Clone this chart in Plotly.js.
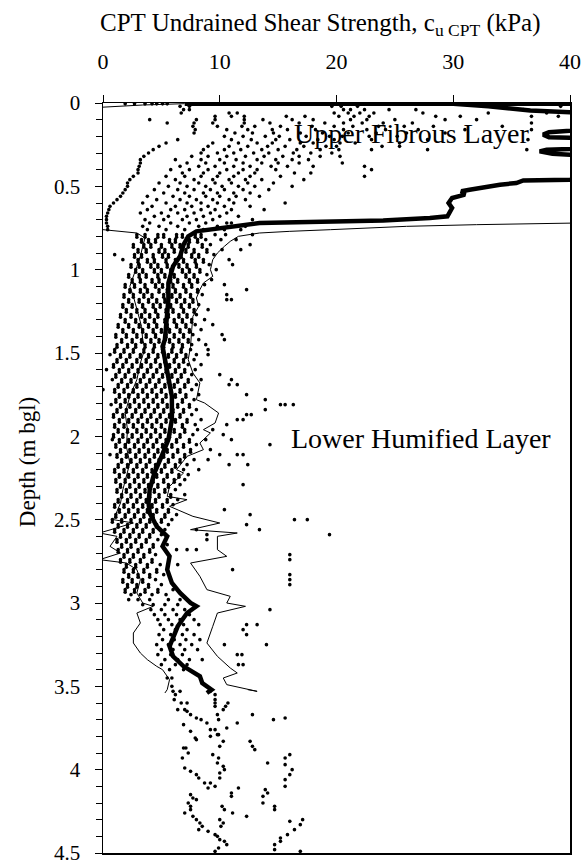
<!DOCTYPE html>
<html>
<head>
<meta charset="utf-8">
<script src="https://cdn.plot.ly/plotly-3.0.1.min.js"></script>
<style>html,body{margin:0;padding:0;background:#fff;}#chart{width:583px;height:864px;}</style>
</head>
<body>
<div id="chart"></div>
<script>
// ---- DATA: scatter rows, each row = [depth (m), cu values (kPa) ...] ----
const dotsUpper = [
 [0.005, 1.9, 2.7, 3.6, 4.2, 4.6, 5.1, 5.5],
 [0.02, 6.6, 7.4, 19.6, 20.4, 21.8, 39.2],
 [0.04, 6.9, 7.4, 20.6, 21.2, 22.4, 24.5, 26.8, 36.0],
 [0.06, 6.7, 10.8, 11.5, 19.8, 21.0, 22.0, 23.2, 27.4, 33.0, 38.0],
 [0.08, 9.6, 11.0, 12.1, 15.7, 17.3, 20.2, 21.5, 22.8, 28.5, 30.6, 36.7, 39.0],
 [0.10, 4.0, 8.0, 9.6, 12.1, 13.7, 16.2, 18.0, 21.2, 22.6, 25.0, 29.3, 32.0],
 [0.12, 5.5, 7.8, 9.4, 12.1, 14.3, 16.8, 19.0, 20.6, 22.2, 24.0, 26.5, 36.7],
 [0.14, 7.7, 9.8, 11.9, 13.0, 15.2, 17.9, 19.8, 21.4, 23.6, 25.8, 28.3, 34.2],
 [0.16, 7.9, 10.6, 12.4, 14.5, 15.8, 18.2, 20.6, 22.6, 24.2, 27.0, 31.0, 36.7],
 [0.18, 7.8, 11.3, 12.8, 14.6, 16.9, 18.8, 21.0, 23.4, 26.0, 29.3],
 [0.20, 10.4, 12.0, 13.9, 15.1, 17.4, 19.4, 20.5, 22.8, 25.2],
 [0.22, 6.4, 11.0, 12.7, 14.8, 16.0, 18.4, 19.8, 23.0, 27.8, 36.4],
 [0.24, 5.4, 9.4, 11.6, 13.2, 14.5, 16.9, 18.0, 20.3, 21.6, 25.4],
 [0.26, 4.8, 9.0, 10.8, 12.4, 14.1, 15.6, 17.2, 19.1, 20.0, 23.9, 25.4],
 [0.28, 4.3, 8.6, 10.4, 11.8, 13.6, 15.0, 16.6, 18.6, 20.2, 23.0, 27.8, 36.3],
 [0.30, 3.9, 8.4, 9.8, 11.2, 12.9, 14.2, 16.3, 17.8, 19.6],
 [0.32, 3.5, 7.6, 9.0, 10.6, 12.2, 13.8, 15.4, 16.8, 18.6, 20.3],
 [0.34, 3.2, 6.2, 8.4, 10.0, 11.4, 13.2, 14.8, 16.2, 17.6],
 [0.36, 3.2, 7.2, 8.8, 10.4, 12.0, 13.6, 15.0, 16.8, 20.5],
 [0.38, 3.1, 6.6, 8.2, 9.6, 11.2, 12.6, 14.4, 15.8, 18.0, 22.4],
 [0.40, 3.0, 5.8, 7.4, 9.0, 10.6, 12.0, 13.2, 14.8, 23.0],
 [0.42, 3.0, 6.8, 8.6, 10.0, 11.6, 13.0, 16.4, 17.8],
 [0.44, 2.6, 5.4, 7.0, 8.4, 9.8, 11.2, 12.6, 15.2, 22.4],
 [0.46, 2.3, 6.2, 7.8, 9.4, 10.8, 12.2, 13.6, 17.2],
 [0.48, 2.1, 4.8, 6.6, 8.2, 9.6, 11.0, 12.4, 14.6],
 [0.50, 2.1, 5.6, 7.2, 8.8, 10.2, 11.6, 13.0, 16.2],
 [0.52, 1.9, 4.4, 6.4, 7.8, 9.2, 10.4, 12.0, 14.2],
 [0.54, 1.7, 5.2, 7.0, 8.6, 9.8, 11.2, 12.6],
 [0.56, 1.5, 3.8, 6.0, 7.4, 8.8, 10.0, 11.4, 13.4],
 [0.58, 1.2, 4.6, 6.6, 8.0, 9.4, 10.8, 12.2],
 [0.60, 0.9, 3.4, 5.4, 7.2, 8.4, 9.8, 11.2, 15.6],
 [0.62, 0.6, 4.2, 6.2, 7.6, 9.0, 10.4, 12.6],
 [0.64, 0.5, 3.8, 5.8, 7.0, 8.4, 9.6, 11.0, 13.8],
 [0.66, 0.4, 3.2, 5.0, 6.4, 7.8, 9.2, 10.6],
 [0.68, 0.3, 4.4, 5.6, 7.2, 8.6, 10.0, 11.6],
 [0.70, 0.3, 3.6, 5.2, 6.8, 8.0, 9.4, 12.8],
 [0.72, 0.3, 4.0, 5.8, 7.4, 8.8, 10.6, 11.0],
 [0.74, 0.4, 3.4, 4.8, 6.4, 8.2, 9.8, 12.2],
 [0.76, 0.4, 3.8, 5.4, 7.0, 8.6, 10.4, 11.8]
];
const dotsMiddle = [
 [0.79, 2.9, 3.6, 4.7, 5.2, 6.3, 6.8, 7.9, 8.4, 9.6, 10.5, 12.8],
 [0.82, 3.3, 3.9, 4.5, 5.7, 6.2, 7.4, 8.1, 8.8, 10.1, 11.4],
 [0.85, 2.6, 3.5, 4.1, 5.0, 5.9, 6.6, 7.3, 8.5, 9.2, 12.6],
 [0.88, 3.0, 3.7, 4.8, 5.3, 6.1, 7.1, 7.8, 8.9, 10.2, 11.8],
 [0.91, 1.0, 2.7, 3.3, 4.3, 5.1, 5.6, 6.7, 7.6, 8.2, 9.5],
 [0.94, 1.7, 3.0, 3.8, 4.4, 5.4, 6.2, 6.9, 7.9, 8.6, 10.8],
 [0.97, 2.4, 3.1, 4.1, 4.7, 5.5, 6.5, 7.2, 8.0, 9.1, 11.1],
 [1.00, 2.8, 3.4, 4.4, 5.0, 5.8, 6.8, 7.4, 8.3, 9.7],
 [1.03, 2.2, 3.1, 3.7, 4.7, 5.3, 6.1, 7.1, 7.8, 8.9],
 [1.06, 2.5, 3.2, 4.2, 4.8, 5.8, 6.4, 7.4, 8.1, 9.3],
 [1.09, 1.9, 2.7, 3.6, 4.5, 5.1, 6.0, 6.9, 7.6, 8.7, 10.4],
 [1.12, 2.3, 3.2, 3.8, 4.8, 5.5, 6.2, 7.1, 8.1, 12.3],
 [1.15, 1.8, 2.6, 3.5, 4.2, 5.2, 5.9, 6.6, 7.5, 8.5, 10.6],
 [1.18, 2.2, 3.1, 3.9, 4.6, 5.3, 6.3, 7.0, 7.7, 10.6, 11.0],
 [1.21, 1.7, 2.5, 3.4, 4.3, 4.9, 5.8, 6.7, 7.4, 8.2],
 [1.24, 2.0, 2.9, 3.6, 4.5, 5.4, 6.0, 6.9, 7.8, 9.0],
 [1.27, 1.5, 2.4, 3.3, 4.0, 4.7, 5.6, 6.5, 7.2, 8.0],
 [1.30, 1.9, 2.8, 3.6, 4.4, 5.3, 6.1, 6.8, 7.6, 8.7],
 [1.33, 1.3, 2.2, 3.1, 3.9, 4.6, 5.5, 6.3, 7.1, 7.9, 9.4],
 [1.36, 1.7, 2.6, 3.4, 4.3, 5.0, 5.7, 6.6, 7.4, 8.4],
 [1.39, 1.1, 2.0, 2.9, 3.7, 4.5, 5.4, 6.1, 6.9, 7.7, 10.2],
 [1.42, 1.6, 2.5, 3.3, 4.1, 4.8, 5.7, 6.5, 7.3, 8.2, 10.4],
 [1.45, 1.2, 2.1, 2.8, 3.6, 4.4, 5.2, 6.0, 6.8, 7.6, 8.8],
 [1.48, 1.0, 1.8, 2.6, 3.5, 4.3, 5.1, 5.9, 6.7, 7.5, 9.0],
 [1.51, 0.6, 1.5, 2.3, 3.2, 3.9, 4.7, 5.6, 6.3, 7.1, 8.0, 9.0],
 [1.54, 1.2, 2.0, 2.9, 3.7, 4.5, 5.3, 6.1, 6.9, 7.8],
 [1.57, 0.9, 1.7, 2.5, 3.3, 4.1, 4.9, 5.7, 6.5, 7.3, 8.4],
 [1.60, 0.3, 1.4, 2.2, 3.0, 3.8, 4.6, 5.4, 6.2, 7.0, 7.9],
 [1.63, 1.1, 1.9, 2.7, 3.5, 4.3, 5.1, 5.9, 6.7, 7.6, 10.0],
 [1.66, 0.8, 1.6, 2.4, 3.2, 4.0, 4.8, 5.6, 6.4, 7.3, 8.4, 11.0],
 [1.69, 1.3, 2.1, 2.9, 3.7, 4.5, 5.3, 6.1, 7.0, 8.0, 10.8, 11.5],
 [1.72, 0.0, 1.0, 1.8, 2.6, 3.4, 4.2, 5.0, 5.8, 6.6, 7.6],
 [1.75, 1.4, 2.2, 3.0, 3.8, 4.6, 5.4, 6.2, 7.1, 8.2, 12.3],
 [1.78, 1.1, 1.9, 2.7, 3.5, 4.3, 5.1, 5.9, 6.8, 7.8, 13.9],
 [1.81, 0.7, 1.5, 2.3, 3.1, 3.9, 4.7, 5.5, 6.4, 7.4, 15.2, 15.6, 16.3],
 [1.84, 1.2, 2.0, 2.8, 3.6, 4.4, 5.2, 6.0, 6.9, 8.0, 13.9],
 [1.87, 0.9, 1.7, 2.5, 3.3, 4.1, 4.9, 5.7, 6.6, 7.6, 12.3, 12.7],
 [1.90, 1.4, 2.2, 3.0, 3.8, 4.6, 5.4, 6.2, 7.2, 8.4, 11.5, 12.0],
 [1.93, 1.0, 1.8, 2.6, 3.4, 4.2, 5.0, 5.8, 6.8, 7.9, 10.6],
 [1.96, 1.3, 2.1, 2.9, 3.7, 4.5, 5.3, 6.1, 7.0, 8.1, 9.4],
 [1.99, 0.9, 1.7, 2.5, 3.3, 4.1, 4.9, 5.7, 6.6, 7.7, 10.3],
 [2.02, 0.8, 1.4, 2.2, 3.0, 3.8, 4.6, 5.4, 6.3, 7.4, 8.8, 11.0],
 [2.05, 1.1, 1.9, 2.7, 3.5, 4.3, 5.1, 5.9, 6.9, 8.0, 14.3],
 [2.08, 1.5, 2.3, 3.1, 3.9, 4.7, 5.5, 6.4, 7.5, 9.2],
 [2.11, 0.6, 1.2, 2.0, 2.8, 3.6, 4.4, 5.2, 6.0, 7.0, 10.0, 11.5, 12.0],
 [2.14, 1.6, 2.4, 3.2, 4.0, 4.8, 5.6, 6.6, 7.8, 9.0],
 [2.17, 1.3, 2.1, 2.9, 3.7, 4.5, 5.3, 6.2, 7.2, 10.8, 12.4],
 [2.20, 1.0, 1.8, 2.6, 3.4, 4.2, 5.0, 5.9, 6.9, 8.2],
 [2.23, 1.4, 2.2, 3.0, 3.8, 4.6, 5.5, 6.5, 7.3],
 [2.26, 1.1, 1.9, 2.7, 3.5, 4.3, 5.2, 6.1, 7.0],
 [2.29, 1.5, 2.3, 3.1, 3.9, 4.7, 5.6, 6.6, 12.0],
 [2.32, 1.2, 2.0, 2.8, 3.6, 4.4, 5.3, 6.2],
 [2.35, 1.6, 2.4, 3.2, 4.0, 4.8, 5.8, 7.0],
 [2.38, 1.3, 2.1, 2.9, 3.7, 4.5, 5.5, 6.4],
 [2.41, 1.0, 1.8, 2.6, 3.4, 4.2, 5.1, 6.0],
 [2.44, 1.4, 2.2, 3.0, 3.8, 4.6, 5.6, 10.4],
 [2.47, 1.1, 1.9, 2.7, 3.5, 4.3, 5.3, 6.3, 12.6]
];
// second reading of the same soundings, 0.015 m lower (forms the vertical chains)
const dotsMiddleB = [
 [0.805, 2.9, 3.6, 4.7, 5.2, 6.3, 6.8, 7.9, 8.4],
 [0.835, 3.3, 3.9, 4.5, 5.7, 6.2, 7.4, 8.1],
 [0.865, 2.6, 3.5, 4.1, 5.0, 5.9, 6.6, 7.3, 8.5],
 [0.895, 3.0, 3.7, 4.8, 5.3, 6.1, 7.1, 7.8, 8.9],
 [0.925, 2.7, 3.3, 4.3, 5.1, 5.6, 6.7, 7.6, 8.2],
 [0.955, 3.0, 3.8, 4.4, 5.4, 6.2, 6.9, 7.9, 8.6],
 [0.985, 2.4, 3.1, 4.1, 4.7, 5.5, 6.5, 7.2, 8.0],
 [1.015, 2.8, 3.4, 4.4, 5.0, 5.8, 6.8, 7.4, 8.3],
 [1.045, 2.2, 3.1, 3.7, 4.7, 5.3, 6.1, 7.1, 7.8],
 [1.075, 2.5, 3.2, 4.2, 4.8, 5.8, 6.4, 7.4, 8.1],
 [1.105, 1.9, 2.7, 3.6, 4.5, 5.1, 6.0, 6.9, 7.6],
 [1.135, 2.3, 3.2, 3.8, 4.8, 5.5, 6.2, 7.1, 8.1],
 [1.165, 1.8, 2.6, 3.5, 4.2, 5.2, 5.9, 6.6, 7.5],
 [1.195, 2.2, 3.1, 3.9, 4.6, 5.3, 6.3, 7.0, 7.7],
 [1.225, 1.7, 2.5, 3.4, 4.3, 4.9, 5.8, 6.7, 7.4],
 [1.255, 2.0, 2.9, 3.6, 4.5, 5.4, 6.0, 6.9, 7.8],
 [1.285, 1.5, 2.4, 3.3, 4.0, 4.7, 5.6, 6.5, 7.2],
 [1.315, 1.9, 2.8, 3.6, 4.4, 5.3, 6.1, 6.8, 7.6],
 [1.345, 1.3, 2.2, 3.1, 3.9, 4.6, 5.5, 6.3, 7.1],
 [1.375, 1.7, 2.6, 3.4, 4.3, 5.0, 5.7, 6.6, 7.4],
 [1.405, 1.1, 2.0, 2.9, 3.7, 4.5, 5.4, 6.1, 6.9],
 [1.435, 1.6, 2.5, 3.3, 4.1, 4.8, 5.7, 6.5, 7.3],
 [1.465, 1.2, 2.1, 2.8, 3.6, 4.4, 5.2, 6.0, 6.8],
 [1.495, 1.0, 1.8, 2.6, 3.5, 4.3, 5.1, 5.9, 6.7],
 [1.525, 1.5, 2.3, 3.2, 3.9, 4.7, 5.6, 6.3, 7.1],
 [1.555, 1.2, 2.0, 2.9, 3.7, 4.5, 5.3, 6.1, 6.9],
 [1.585, 0.9, 1.7, 2.5, 3.3, 4.1, 4.9, 5.7, 6.5],
 [1.615, 1.4, 2.2, 3.0, 3.8, 4.6, 5.4, 6.2, 7.0],
 [1.645, 1.1, 1.9, 2.7, 3.5, 4.3, 5.1, 5.9, 6.7],
 [1.675, 1.6, 2.4, 3.2, 4.0, 4.8, 5.6, 6.4, 7.3],
 [1.705, 1.3, 2.1, 2.9, 3.7, 4.5, 5.3, 6.1, 7.0],
 [1.735, 1.0, 1.8, 2.6, 3.4, 4.2, 5.0, 5.8, 6.6],
 [1.765, 1.4, 2.2, 3.0, 3.8, 4.6, 5.4, 6.2, 7.1],
 [1.795, 1.1, 1.9, 2.7, 3.5, 4.3, 5.1, 5.9, 6.8],
 [1.825, 1.5, 2.3, 3.1, 3.9, 4.7, 5.5, 6.4, 7.4],
 [1.855, 1.2, 2.0, 2.8, 3.6, 4.4, 5.2, 6.0, 6.9],
 [1.885, 0.9, 1.7, 2.5, 3.3, 4.1, 4.9, 5.7, 6.6],
 [1.915, 1.4, 2.2, 3.0, 3.8, 4.6, 5.4, 6.2, 7.2],
 [1.945, 1.0, 1.8, 2.6, 3.4, 4.2, 5.0, 5.8, 6.8],
 [1.975, 1.3, 2.1, 2.9, 3.7, 4.5, 5.3, 6.1, 7.0],
 [2.005, 0.9, 1.7, 2.5, 3.3, 4.1, 4.9, 5.7, 6.6],
 [2.035, 1.4, 2.2, 3.0, 3.8, 4.6, 5.4, 6.3, 7.4],
 [2.065, 1.1, 1.9, 2.7, 3.5, 4.3, 5.1, 5.9, 6.9],
 [2.095, 1.5, 2.3, 3.1, 3.9, 4.7, 5.5, 6.4, 7.5],
 [2.125, 1.2, 2.0, 2.8, 3.6, 4.4, 5.2, 6.0, 7.0],
 [2.155, 1.6, 2.4, 3.2, 4.0, 4.8, 5.6, 6.6],
 [2.185, 1.3, 2.1, 2.9, 3.7, 4.5, 5.3, 6.2],
 [2.215, 1.0, 1.8, 2.6, 3.4, 4.2, 5.0, 5.9],
 [2.245, 1.4, 2.2, 3.0, 3.8, 4.6, 5.5, 6.5],
 [2.275, 1.1, 1.9, 2.7, 3.5, 4.3, 5.2, 6.1],
 [2.305, 1.5, 2.3, 3.1, 3.9, 4.7, 5.6],
 [2.335, 1.2, 2.0, 2.8, 3.6, 4.4, 5.3],
 [2.365, 1.6, 2.4, 3.2, 4.0, 4.8, 5.8],
 [2.395, 1.3, 2.1, 2.9, 3.7, 4.5, 5.5],
 [2.425, 1.0, 1.8, 2.6, 3.4, 4.2, 5.1],
 [2.455, 1.4, 2.2, 3.0, 3.8, 4.6, 5.6],
 [2.485, 1.1, 1.9, 2.7, 3.5, 4.3, 5.3],
 [2.515, 0.8, 1.6, 2.4, 3.2, 4.0, 5.0],
 [2.545, 1.3, 2.1, 2.9, 3.7, 4.6],
 [2.575, 1.0, 1.8, 2.6, 3.4, 4.3],
 [2.605, 1.5, 2.3, 3.1, 4.0],
 [2.635, 1.2, 2.0, 2.8, 3.7],
 [2.665, 1.6, 2.4, 3.3, 4.3],
 [2.695, 1.3, 2.1, 3.0, 4.0],
 [2.725, 1.8, 2.6, 3.5],
 [2.755, 1.5, 2.3, 3.2, 4.2],
 [2.785, 2.0, 2.8, 3.8],
 [2.815, 1.8, 2.6, 3.5, 4.6],
 [2.845, 2.2, 3.0, 4.0],
 [2.875, 1.7, 2.5, 3.4],
 [2.905, 2.1, 2.9, 3.9],
 [2.935, 1.9, 2.7, 3.6, 4.7]
];
const dotsLower = [
 [2.50, 0.8, 1.6, 2.4, 3.2, 4.0, 5.0, 5.9, 16.4, 17.5],
 [2.53, 1.3, 2.1, 2.9, 3.7, 4.6, 5.6, 12.3],
 [2.56, 1.0, 1.8, 2.6, 3.4, 4.3, 5.3, 8.0, 13.4],
 [2.59, 1.5, 2.3, 3.1, 4.0, 5.0, 8.9, 19.4],
 [2.62, 1.2, 2.0, 2.8, 3.7, 4.7, 8.9],
 [2.65, 1.6, 2.4, 3.3, 4.3, 5.5],
 [2.68, 1.3, 2.1, 3.0, 4.0, 6.3, 7.2, 8.0],
 [2.71, 1.8, 2.6, 3.5, 4.5, 16.0],
 [2.74, 1.5, 2.3, 3.2, 4.2, 16.0],
 [2.77, 2.0, 2.8, 3.8, 4.9, 6.4],
 [2.80, 1.8, 2.6, 3.5, 4.6, 11.1],
 [2.83, 2.2, 3.0, 4.0, 5.2, 16.0],
 [2.86, 1.7, 2.5, 3.4, 4.5, 16.0],
 [2.89, 2.1, 2.9, 3.9, 5.0, 16.0],
 [2.92, 1.9, 2.7, 3.6, 4.7, 6.0],
 [2.95, 2.4, 3.2, 4.2, 5.4],
 [2.98, 2.2, 3.0, 4.0, 5.6, 6.6],
 [3.01, 3.4, 4.3, 5.3, 6.4],
 [3.04, 4.1, 5.0, 6.0, 7.0, 14.3],
 [3.07, 4.4, 5.3, 6.3, 7.4],
 [3.10, 4.7, 5.6, 6.6, 7.8],
 [3.13, 4.9, 5.9, 6.9, 8.2, 12.3, 13.2],
 [3.16, 5.2, 6.2, 7.2, 12.0],
 [3.19, 4.8, 5.8, 6.8, 7.8, 12.3],
 [3.22, 5.1, 6.1, 7.1, 8.3],
 [3.25, 4.6, 5.6, 6.6, 7.6, 10.4, 14.0],
 [3.28, 5.0, 6.0, 7.0, 8.1],
 [3.31, 4.7, 5.8, 6.8, 11.5, 11.9],
 [3.34, 5.3, 6.4, 7.4, 8.5],
 [3.37, 5.0, 6.2, 7.2, 11.6, 12.0]
];
const dotsDeep = [
 [3.40, 5.7, 6.9], [3.45, 5.5, 5.9], [3.50, 5.9], [3.53, 6.0, 6.6, 9.2],
 [3.55, 6.2, 9.6], [3.58, 6.1, 9.6], [3.60, 6.7, 7.2, 9.6, 10.7], [3.62, 9.6, 10.5],
 [3.64, 6.4, 7.0, 10.3], [3.65, 7.2], [3.67, 7.5, 9.8, 12.8], [3.69, 8.0, 15.6],
 [3.70, 8.4, 9.9, 14.6], [3.72, 8.9, 11.5], [3.73, 6.9], [3.75, 10.6],
 [3.76, 9.2, 9.6], [3.77, 7.5], [3.79, 9.8, 9.9], [3.80, 9.2], [3.81, 7.9],
 [3.82, 8.0], [3.83, 10.3, 12.6], [3.86, 10.0, 12.8], [3.87, 6.9, 7.1],
 [3.88, 13.0], [3.90, 7.3], [3.91, 9.4, 16.0], [3.93, 6.8, 9.9, 15.6],
 [3.96, 9.8, 14.1], [3.97, 15.6], [3.98, 10.3], [3.99, 7.0], [4.00, 10.4, 16.2],
 [4.01, 7.5], [4.02, 10.0], [4.03, 8.0, 16.0], [4.05, 8.2, 10.0], [4.06, 15.6],
 [4.08, 8.7, 9.2], [4.10, 9.6, 15.6], [4.11, 9.0, 11.6], [4.12, 13.9],
 [4.14, 11.0, 14.1], [4.15, 7.5], [4.16, 11.0, 13.7], [4.17, 7.7], [4.18, 8.0],
 [4.20, 7.3, 13.7], [4.22, 7.5, 10.2, 14.7], [4.24, 7.5, 10.4, 14.7],
 [4.26, 7.0, 11.1], [4.28, 7.7, 12.3], [4.30, 8.0, 10.0, 17.1], [4.31, 16.0],
 [4.32, 8.3, 10.3], [4.33, 16.9], [4.34, 8.5, 10.1], [4.36, 8.2, 16.4],
 [4.37, 9.0], [4.39, 9.6, 15.8], [4.40, 9.8], [4.41, 15.2], [4.42, 10.0],
 [4.43, 10.4, 15.2], [4.45, 10.6, 14.7], [4.47, 9.9], [4.48, 14.7], [4.49, 9.6, 16.9]
];

// ---- DATA: mean profile (thick) and bounds (thin) ----
const meanCu = [7.0, 30.0, 40.5, 30.0, 33.0, 36.6, 40.0, 55.0, 38.2, 37.7, 38.2, 55.0, 38.0, 37.4, 38.5, 55.0, 40.0, 36.0, 35.4, 34.0, 31.4, 30.7, 31.0, 29.9, 29.6, 29.9, 29.5, 28.0, 24.0, 19.4, 13.4, 8.0, 7.3, 6.9, 6.6, 6.0, 5.6, 5.6, 5.5, 5.3, 5.1, 5.5, 5.9, 5.9, 5.6, 4.9, 4.4, 4.0, 3.9, 4.0, 4.6, 5.5, 5.1, 5.7, 5.5, 5.9, 6.6, 7.5, 8.0, 7.2, 6.4, 5.7, 6.0, 6.9, 8.3, 8.5, 9.3, 8.9];
const meanDepth = [0.004, 0.005, 0.004, 0.005, 0.02, 0.045, 0.055, 0.1, 0.175, 0.19, 0.205, 0.24, 0.28, 0.29, 0.305, 0.36, 0.46, 0.465, 0.48, 0.49, 0.52, 0.53, 0.55, 0.57, 0.6, 0.63, 0.68, 0.69, 0.705, 0.71, 0.72, 0.77, 0.8, 0.85, 0.92, 0.98, 1.08, 1.18, 1.28, 1.42, 1.46, 1.62, 1.76, 1.9, 2.02, 2.14, 2.22, 2.32, 2.4, 2.46, 2.54, 2.6, 2.66, 2.72, 2.8, 2.88, 2.94, 3.0, 3.02, 3.06, 3.14, 3.26, 3.32, 3.38, 3.44, 3.48, 3.52, 3.54];

const upperCu = [45.0, 40.0, 32.0, 26.0, 22.0, 19.5, 16.0, 13.4, 11.6, 10.9, 10.4, 9.8, 9.4, 9.2, 9.4, 8.6, 8.3, 8.0, 8.2, 7.7, 7.6, 7.5, 7.3, 7.7, 8.3, 8.0, 8.7, 9.9, 9.6, 8.6, 9.2, 8.3, 8.6, 7.2, 6.3, 6.9, 5.7, 5.5, 7.2, 5.7, 7.7, 10.0, 7.5, 11.5, 9.8, 9.8, 10.6, 7.5, 8.3, 8.9, 10.9, 10.6, 12.2, 9.8, 9.4, 8.9, 9.8, 10.9, 11.5, 10.3, 10.6, 13.2, 12.4];
const upperDepth = [0.715, 0.72, 0.73, 0.74, 0.75, 0.76, 0.77, 0.78, 0.8, 0.83, 0.86, 0.9, 0.94, 1.0, 1.04, 1.08, 1.12, 1.17, 1.22, 1.28, 1.36, 1.46, 1.54, 1.62, 1.68, 1.78, 1.8, 1.86, 1.92, 1.96, 1.98, 2.04, 2.08, 2.12, 2.2, 2.22, 2.3, 2.36, 2.38, 2.42, 2.48, 2.52, 2.56, 2.58, 2.6, 2.68, 2.72, 2.76, 2.84, 2.92, 2.96, 3.0, 3.02, 3.06, 3.14, 3.24, 3.32, 3.39, 3.42, 3.45, 3.49, 3.53, 3.52];

const lowerCu = [7.0, 3.4, 0.0, -5.0, -5.0, 0.0, 2.9, 3.6, 3.4, 3.2, 2.9, 2.6, 2.3, 2.6, 3.0, 3.3, 3.4, 3.6, 3.2, 2.9, 2.3, 1.9, 2.1, 2.0, 2.3, 2.0, 1.7, 1.5, 0.9, 2.6, -0.3, 1.2, 0.6, 1.5, -0.3, 2.0, 2.9, 3.2, 2.9, 3.4, 4.3, 2.9, 3.2, 2.6, 2.6, 3.2, 3.8, 4.6, 5.1, 5.7, 5.5, 5.3];
const lowerDepth = [0.004, 0.012, 0.025, 0.05, 0.74, 0.76, 0.78, 0.81, 0.86, 0.92, 0.98, 1.04, 1.1, 1.16, 1.26, 1.34, 1.42, 1.47, 1.56, 1.66, 1.76, 1.86, 1.96, 2.06, 2.16, 2.24, 2.32, 2.4, 2.5, 2.52, 2.58, 2.6, 2.66, 2.7, 2.74, 2.76, 2.8, 2.86, 2.94, 3.0, 3.02, 3.06, 3.12, 3.18, 3.24, 3.3, 3.34, 3.38, 3.4, 3.46, 3.52, 3.54];

// ---- labels ----
const xTitle = 'CPT Undrained Shear Strength, c<sub>u CPT</sub> (kPa)';
const yTitle = 'Depth (m bgl)';
const yTickVals = [0, 0.5, 1, 1.5, 2, 2.5, 3, 3.5, 4, 4.5];
const yTickText = ['0', '0.5', '1', '1.5', '2', '2.5', '3', '3.5', '4', '4.5'];
const layerLabels = ['Upper Fibrous Layer', 'Lower Humified Layer'];
const layerLabelCu = [26.5, 27.2];
const layerLabelDepth = [0.18, 2.01];

function flatten(groups) {
  const x = [], y = [];
  groups.forEach(rows => rows.forEach(r => {
    for (let i = 1; i < r.length; i++) { y.push(r[0]); x.push(r[i]); }
  }));
  return {x, y};
}
const dots = flatten([dotsUpper, dotsMiddle, dotsMiddleB, dotsLower, dotsDeep]);
const FONT = 'Liberation Serif, Times New Roman, serif';

const traces = [
  {type: 'scatter', mode: 'markers', x: dots.x, y: dots.y,
   marker: {color: '#000', size: 3.6}, hoverinfo: 'skip'},
  {type: 'scatter', mode: 'lines', x: upperCu, y: upperDepth,
   line: {color: '#000', width: 1}, hoverinfo: 'skip'},
  {type: 'scatter', mode: 'lines', x: lowerCu, y: lowerDepth,
   line: {color: '#000', width: 1}, hoverinfo: 'skip'},
  {type: 'scatter', mode: 'lines', x: meanCu, y: meanDepth,
   line: {color: '#000', width: 4.5}, hoverinfo: 'skip'}
];

const layout = {
  width: 583, height: 864,
  margin: {l: 103, r: 13, t: 103, b: 11, pad: 0},
  paper_bgcolor: '#fff', plot_bgcolor: '#fff',
  showlegend: false,
  font: {family: FONT, color: '#000', size: 21},
  xaxis: {
    side: 'top', range: [0, 40], dtick: 10, tick0: 0,
    ticks: 'outside', ticklen: 7, tickwidth: 1, tickcolor: '#000',
    showline: true, linecolor: '#000', linewidth: 1.5, mirror: true,
    showgrid: false, zeroline: false, ticklabelstandoff: 17,
    ticklabeloverflow: 'allow',
    tickfont: {family: FONT, size: 22, color: '#000'}
  },
  yaxis: {
    range: [4.5, 0], tickmode: 'array', tickvals: yTickVals, ticktext: yTickText,
    ticks: 'outside', ticklen: 7, tickwidth: 1, tickcolor: '#000',
    minor: {dtick: 0.1, tick0: 0, ticks: 'outside', ticklen: 6, tickcolor: '#000', showgrid: false},
    showline: true, linecolor: '#000', linewidth: 1.5, mirror: true,
    showgrid: false, zeroline: false, ticklabelstandoff: 10,
    ticklabeloverflow: 'allow',
    tickfont: {family: FONT, size: 21, color: '#000'}
  },
  annotations: [
    {xref: 'paper', yref: 'paper', x: 0.465, y: 1.105, text: xTitle, showarrow: false,
     font: {family: FONT, size: 25, color: '#000'}, xanchor: 'center', yanchor: 'middle'},
    {xref: 'paper', yref: 'paper', x: -0.163, y: 0.521, text: yTitle, showarrow: false,
     textangle: -90, font: {family: FONT, size: 23, color: '#000'}, xanchor: 'center', yanchor: 'middle'},
    {xref: 'x', yref: 'y', x: layerLabelCu[0], y: layerLabelDepth[0], text: layerLabels[0], showarrow: false,
     font: {family: FONT, size: 28, color: '#000'}, xanchor: 'center', yanchor: 'middle'},
    {xref: 'x', yref: 'y', x: layerLabelCu[1], y: layerLabelDepth[1], text: layerLabels[1], showarrow: false,
     font: {family: FONT, size: 28, color: '#000'}, xanchor: 'center', yanchor: 'middle'}
  ]
};

Plotly.newPlot('chart', traces, layout, {displayModeBar: false, staticPlot: true});
</script>
</body>
</html>
